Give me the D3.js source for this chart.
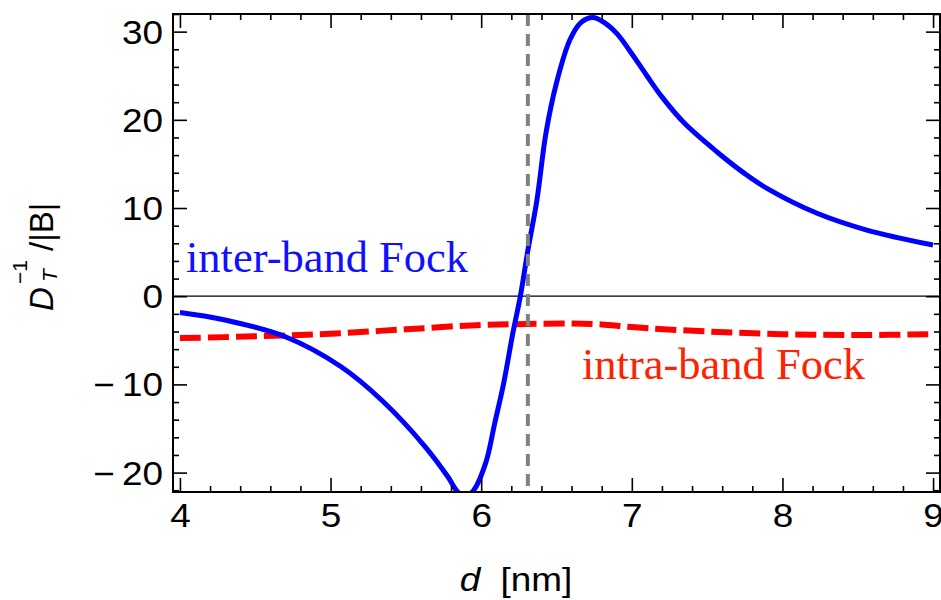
<!DOCTYPE html>
<html>
<head>
<meta charset="utf-8">
<script src="https://cdn.jsdelivr.net/npm/d3@7"></script>
<style>
  body { margin: 0; background: #fff; }
  svg { display: block; }
  .tick text { font-family: "Liberation Sans", Arial, sans-serif; }
</style>
</head>
<body>
<div id="chart"></div>
<script>
// inter-band Fock (blue solid)
const interX = [4.0, 4.3, 4.7, 5.07, 5.34, 5.63, 5.78, 5.84, 5.89, 5.95, 6.03, 6.09, 6.15, 6.21, 6.26, 6.31, 6.37, 6.43, 6.50, 6.59, 6.66, 6.74, 6.82, 6.90, 7.0, 7.1, 7.2, 7.35, 7.57, 7.75, 7.90, 8.23, 8.56, 9.0];
const interY = [-1.85, -2.7, -4.6, -8.0, -11.8, -17.1, -20.5, -22.1, -22.7, -22.0, -18.9, -14.4, -9.8, -4.2, 0, 5.2, 10.9, 18.5, 24.2, 29.1, 31.0, 31.6, 31.0, 29.8, 27.5, 25.0, 22.6, 19.6, 16.3, 13.9, 12.2, 9.4, 7.5, 5.8];
// intra-band Fock (red dashed)
const intraX = [4.0, 4.5, 5.0, 5.5, 6.0, 6.3, 6.6, 6.8, 7.0, 7.5, 8.0, 8.5, 9.0];
const intraY = [-4.75, -4.55, -4.25, -3.75, -3.25, -3.15, -3.1, -3.2, -3.5, -4.0, -4.3, -4.4, -4.3];
const markerX = 6.31;

const xMajor = [4, 5, 6, 7, 8, 9];
const yMajor = [-20, -10, 0, 10, 20, 30];

const W = 941, H = 600;
const margin = {top: 14, right: 1, bottom: 108, left: 173};
const x0 = margin.left, x1 = W - margin.right;
const y0 = H - margin.bottom, y1 = margin.top;

const xScale = d3.scaleLinear().domain([3.954, 9.046]).range([x0, x1]);
const yScale = d3.scaleLinear().domain([-22.2, 32.0]).range([y0, y1]);

const xMinor = d3.range(39.6, 90.5, 2).map(d => Math.round(d) / 10).filter(d => !xMajor.includes(d));
const yMinor = d3.range(-22, 33, 2).filter(d => !yMajor.includes(d));

const svg = d3.select('#chart').append('svg')
    .attr('width', W).attr('height', H);

svg.append('rect').attr('width', W).attr('height', H).attr('fill', '#fff');

svg.append('clipPath').attr('id', 'plotclip')
  .append('rect')
    .attr('x', x0).attr('y', y1)
    .attr('width', x1 - x0).attr('height', y0 - y1);

const plot = svg.append('g').attr('clip-path', 'url(#plotclip)');

// zero line
plot.append('line')
    .attr('x1', x0).attr('x2', x1)
    .attr('y1', yScale(0)).attr('y2', yScale(0))
    .attr('stroke', '#000').attr('stroke-width', 1.3);

const line = d3.line()
    .x(d => xScale(d[0]))
    .y(d => yScale(d[1]))
    .curve(d3.curveCatmullRom.alpha(0.5));

plot.append('path')
    .datum(intraX.map((v, i) => [v, intraY[i]]))
    .attr('d', line)
    .attr('fill', 'none')
    .attr('stroke', '#ff0000')
    .attr('stroke-width', 6)
    .attr('stroke-dasharray', '21,7');

plot.append('path')
    .datum(interX.map((v, i) => [v, interY[i]]))
    .attr('d', line)
    .attr('fill', 'none')
    .attr('stroke', '#0000ff')
    .attr('stroke-width', 5)
    .attr('stroke-linejoin', 'round');

// vertical marker
plot.append('line')
    .attr('x1', xScale(markerX)).attr('x2', xScale(markerX))
    .attr('y1', y1).attr('y2', y0)
    .attr('stroke', '#808080')
    .attr('stroke-width', 4)
    .attr('stroke-dasharray', '12,8');

// axes: ticks point inward on all four sides
const MAJ = 14, MIN = 6;
function addAxis(axis, tx, ty, cls) {
  const g = svg.append('g')
      .attr('class', cls)
      .attr('transform', 'translate(' + tx + ',' + ty + ')')
      .call(axis);
  g.select('.domain').remove();
  g.selectAll('.tick line').attr('stroke', '#000').attr('stroke-width', 1.6);
  return g;
}
const fmt = d => d < 0 ? '\u2212\u2009' + Math.abs(d) : String(d);

const xb = addAxis(d3.axisBottom(xScale).tickValues(xMajor).tickSize(-MAJ).tickPadding(20).tickFormat(fmt), 0, y0, 'x axis');
addAxis(d3.axisBottom(xScale).tickValues(xMinor).tickSize(-MIN).tickFormat(''), 0, y0, 'x minor');
addAxis(d3.axisTop(xScale).tickValues(xMajor).tickSize(-MAJ).tickFormat(''), 0, y1, 'x2 axis');
addAxis(d3.axisTop(xScale).tickValues(xMinor).tickSize(-MIN).tickFormat(''), 0, y1, 'x2 minor');
const yl = addAxis(d3.axisLeft(yScale).tickValues(yMajor).tickSize(-MAJ).tickPadding(10).tickFormat(fmt), x0, 0, 'y axis');
addAxis(d3.axisLeft(yScale).tickValues(yMinor).tickSize(-MIN).tickFormat(''), x0, 0, 'y minor');
addAxis(d3.axisRight(yScale).tickValues(yMajor).tickSize(-MAJ).tickFormat(''), x1, 0, 'y2 axis');
addAxis(d3.axisRight(yScale).tickValues(yMinor).tickSize(-MIN).tickFormat(''), x1, 0, 'y2 minor');

const SX = 1.12;
xb.selectAll('.tick text')
    .attr('font-size', 33).attr('fill', '#000')
    .attr('y', 0).attr('dy', 0)
    .attr('transform', 'translate(0,' + (527 - y0) + ') scale(' + SX + ',1)');
yl.selectAll('.tick text')
    .attr('font-size', 33).attr('fill', '#000')
    .attr('x', 0).attr('dy', '0.35em')
    .attr('transform', 'translate(-10,0) scale(' + SX + ',1)');

// frame
svg.append('rect')
    .attr('x', x0).attr('y', y1)
    .attr('width', x1 - x0).attr('height', y0 - y1)
    .attr('fill', 'none').attr('stroke', '#000').attr('stroke-width', 2);

// axis titles
const xt = svg.append('text')
    .attr('x', 516).attr('y', 591)
    .attr('text-anchor', 'middle')
    .attr('font-family', '"Liberation Sans", Arial, sans-serif')
    .attr('font-size', 33)
    .attr('transform', 'translate(516,0) scale(' + SX + ',1) translate(-516,0)');
xt.append('tspan').attr('font-style', 'italic').text('d');
xt.append('tspan').attr('dx', 18).text('[nm]');

const yt = svg.append('g')
    .attr('transform', 'translate(53,311) rotate(-90)')
    .attr('font-family', '"Liberation Sans", Arial, sans-serif');
yt.append('text').attr('x', 0).attr('y', 0)
    .attr('font-size', 33).attr('font-style', 'italic').text('D');
yt.append('text').attr('x', 27).attr('y', -26)
    .attr('font-size', 21).text('\u22121');
yt.append('text').attr('x', 29).attr('y', 4)
    .attr('font-size', 21).attr('font-style', 'italic').text('T');
yt.append('text').attr('x', 60).attr('y', 0)
    .attr('font-size', 33).text('/|B|');

// curve labels
svg.append('text')
    .attr('x', 186).attr('y', 272)
    .attr('font-family', '"Liberation Serif", "Times New Roman", serif')
    .attr('font-size', 44.5)
    .attr('fill', '#1010ff')
    .text('inter-band Fock');
svg.append('text')
    .attr('x', 582).attr('y', 379)
    .attr('font-family', '"Liberation Serif", "Times New Roman", serif')
    .attr('font-size', 44.5)
    .attr('fill', '#ff2200')
    .text('intra-band Fock');
</script>
</body>
</html>
